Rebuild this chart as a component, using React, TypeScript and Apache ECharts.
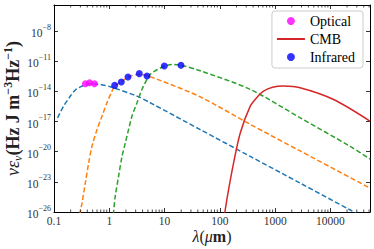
import React, { useEffect, useRef } from "react";
import * as echarts from "echarts";

const FONT = "'Liberation Serif', 'DejaVu Serif', serif";

// x tick labels (wavelength in micrometres) and y tick exponents
const xTickLabels = ["0.1", "1", "10", "100", "1000", "10000"];
const xTickValues = [0.1, 1, 10, 100, 1000, 10000];
const yTickExponents = [-26, -23, -20, -17, -14, -11, -8];
const minorMultipliers = [2, 3, 4, 5, 6, 7, 8, 9];
const minorDecades = [0.1, 1, 10, 100, 1000, 10000];

const X_MIN = 0.1;
const X_MAX = 52000;
const Y_MIN = 1e-26;
const Y_MAX_EXP = -5.4;

// Blue dashed curve
const blueLambda = [0.116, 0.149, 0.19, 0.243, 0.3, 0.37, 0.45, 0.55, 0.69, 1.04, 3.16, 5.51, 44.3, 355, 2850, 22800, 40000];
const blueValue = [2.34e-17, 3.39e-16, 2.51e-15, 1.41e-14, 2.82e-14, 4.47e-14, 5.62e-14, 5.62e-14, 4.79e-14, 2.95e-14, 3.39e-15, 7.41e-16, 1.58e-18, 3.39e-21, 7.41e-24, 1.58e-26, 3.0e-27];

// Orange dashed curve
const orangeLambda = [0.288, 0.299, 0.321, 0.368, 0.423, 0.486, 0.6, 0.738, 0.908, 1.12, 1.25, 1.65, 2.2, 3.49, 4.85, 8.36, 44.3, 355, 2820, 52500];
const orangeValue = [1e-27, 1.07e-26, 7.41e-26, 7.41e-24, 7.41e-22, 3.39e-20, 1.58e-18, 3.39e-17, 7.41e-16, 1.07e-14, 3.55e-14, 8.91e-14, 2.69e-13, 5.25e-13, 3.55e-13, 1.26e-13, 2.82e-15, 5.25e-18, 1.2e-20, 2.34e-24];

// Green dashed curve
const greenLambda = [1.148, 1.197, 1.28, 1.47, 1.7, 1.95, 2.23, 2.57, 3.17, 3.9, 4.81, 5.51, 6.79, 9.89, 13.8, 19.95, 44.3, 355, 2850, 22800, 52500];
const greenValue = [1e-27, 1.07e-26, 3.39e-25, 3.39e-23, 3.39e-21, 7.41e-20, 1.58e-18, 3.39e-17, 7.41e-16, 1.58e-14, 1.58e-13, 5.01e-13, 1.12e-12, 3.16e-12, 4.68e-12, 3.98e-12, 1.12e-12, 1.58e-14, 2.34e-17, 3.39e-20, 1.78e-21];

// CMB (red solid)
const cmbLambda = [117.5, 125, 143.5, 177, 234, 355, 468, 617, 900, 1420, 2820, 11400, 52500];
const cmbValue = [1e-27, 1.58e-26, 1.58e-24, 7.41e-22, 7.41e-19, 3.39e-16, 2.51e-15, 1.07e-14, 2.6e-14, 3.39e-14, 2.34e-14, 1.58e-15, 1.07e-17];

// Optical points (magenta)
const opticalLambda = [0.37, 0.44, 0.54];
const opticalValue = [5.89e-14, 7.41e-14, 5.89e-14];

// Infrared points (blue)
const infraredLambda = [1.25, 1.65, 2.18, 3.49, 4.81, 9.9, 19.8];
const infraredValue = [3.98e-14, 8.51e-14, 2.69e-13, 5.89e-13, 3.39e-13, 3.39e-12, 3.98e-12];

const Y_OFF = -Math.log10(Y_MIN); // 26
const lx = (v: number) => Math.log10(v);
const ly = (v: number) => Math.log10(v) + Y_OFF;
const pairs = (xs: number[], ys: number[]) => xs.map((x, i) => [lx(x), ly(ys[i])]);

export default function App() {
  const ref = useRef<HTMLDivElement>(null);
  useEffect(() => {
    if (!ref.current) return;
    const chart = echarts.init(ref.current, undefined, { renderer: "svg" });
    const xMin = lx(X_MIN);
    const xMax = lx(X_MAX);
    const yMax = Y_MAX_EXP + Y_OFF;

    const xLabelFmt = (v: number) => {
      const idx = xTickValues.findIndex((t) => Math.abs(lx(t) - v) < 1e-6);
      return idx >= 0 ? xTickLabels[idx] : "";
    };
    const yLabelFmt = (v: number) => {
      const e = Math.round(v - Y_OFF);
      if (Math.abs(v - Y_OFF - e) > 1e-6 || !yTickExponents.includes(e)) return "";
      return `{b|10}{s|\u2212${Math.abs(e)}}`;
    };

    const minorTicks: number[][] = [];
    minorDecades.forEach((d) =>
      minorMultipliers.forEach((m) => {
        const v = d * m;
        if (v < X_MAX) minorTicks.push([lx(v), 0]);
      })
    );

    const axisLine = { show: true, onZero: false, lineStyle: { color: "#000", width: 1 } };
    const majorTick = { show: true, inside: true, length: 4, lineStyle: { color: "#000", width: 0.8 } };
    const dashed = (color: string) => ({ color, width: 1.5, type: [5, 2.5] as number[] });

    chart.setOption({
      animation: false,
      backgroundColor: "#fff",
      grid: { left: 54, right: 4, top: 5, bottom: 37, containLabel: false, outerBoundsMode: "none" },
      legend: {
        orient: "vertical",
        right: 11,
        top: 11,
        data: [
          { name: "Optical" },
          { name: "CMB", itemStyle: { color: "rgba(0,0,0,0)", opacity: 0, borderWidth: 0 } },
          { name: "Infrared" },
        ],
        itemWidth: 28,
        itemHeight: 8,
        itemGap: 4,
        padding: [3, 8, 4, 4],
        backgroundColor: "rgba(255,255,255,0.85)",
        borderColor: "#ccc",
        borderWidth: 1,
        borderRadius: 3,
        textStyle: { fontFamily: FONT, fontSize: 14, color: "#000" },
      },
      xAxis: [
        {
          type: "value",
          position: "bottom",
          min: xMin,
          max: xMax,
          interval: 1,
          axisLine,
          axisTick: majorTick,
          splitLine: { show: false },
          axisLabel: {
            formatter: xLabelFmt,
            fontFamily: FONT,
            fontSize: 11.5,
            lineHeight: 12,
            color: "#333",
            margin: 3,
            showMaxLabel: false,
          },
          name: "{i|\u03bb}{r|(}{i|\u03bc}{b|m}{r|)}",
          nameLocation: "middle",
          nameGap: 15,
          nameMoveOverlap: false,
          nameTextStyle: {
            rich: {
              i: { fontFamily: FONT, fontSize: 16, lineHeight: 18, fontStyle: "italic", color: "#222" },
              r: { fontFamily: FONT, fontSize: 16, lineHeight: 18, color: "#222" },
              b: { fontFamily: FONT, fontSize: 16, lineHeight: 18, fontWeight: "bold", color: "#222" },
            },
          },
        },
        {
          type: "value",
          position: "top",
          min: xMin,
          max: xMax,
          interval: 1,
          axisLine,
          axisTick: majorTick,
          splitLine: { show: false },
          axisLabel: { show: false },
        },
      ],
      yAxis: [
        {
          type: "value",
          position: "left",
          min: 0,
          max: yMax,
          interval: 3,
          axisLine,
          axisTick: majorTick,
          splitLine: { show: false },
          axisLabel: {
            formatter: yLabelFmt,
            margin: 3,
            showMaxLabel: false,
            rich: {
              b: { fontFamily: FONT, fontSize: 11.5, color: "#333", lineHeight: 16, verticalAlign: "bottom" },
              s: { fontFamily: FONT, fontSize: 8, color: "#333", verticalAlign: "top" },
            },
          },
          name: "{i|\u03bd\u03b5}{sub|\u03bd}{b|(Hz J m}{sup|\u22123}{b|Hz}{sup|\u22121}{b|)}",
          nameLocation: "middle",
          nameRotate: 90,
          nameGap: 30,
          nameMoveOverlap: false,
          nameTextStyle: {
            rich: {
              i: { fontFamily: FONT, fontSize: 18, fontStyle: "italic", color: "#222", lineHeight: 22, verticalAlign: "middle" },
              sub: { fontFamily: FONT, fontSize: 12, fontStyle: "italic", color: "#222", verticalAlign: "bottom" },
              b: { fontFamily: FONT, fontSize: 18, fontWeight: "bold", color: "#222", lineHeight: 22, verticalAlign: "middle" },
              sup: { fontFamily: FONT, fontSize: 12, fontWeight: "bold", color: "#222", verticalAlign: "top" },
            },
          },
        },
        {
          type: "value",
          position: "right",
          min: 0,
          max: yMax,
          interval: 3,
          axisLine,
          axisTick: majorTick,
          splitLine: { show: false },
          axisLabel: { show: false },
        },
      ],
      series: [
        {
          name: "blue",
          type: "line",
          data: pairs(blueLambda, blueValue),
          symbol: "none",
          smooth: 0.3,
          lineStyle: dashed("#1f77b4"),
          z: 2,
        },
        {
          name: "orange",
          type: "line",
          data: pairs(orangeLambda, orangeValue),
          symbol: "none",
          smooth: 0.3,
          lineStyle: dashed("#ff7f0e"),
          z: 2,
        },
        {
          name: "green",
          type: "line",
          data: pairs(greenLambda, greenValue),
          symbol: "none",
          smooth: 0.3,
          lineStyle: dashed("#2ca02c"),
          z: 2,
        },
        {
          name: "CMB",
          type: "line",
          data: pairs(cmbLambda, cmbValue),
          symbol: "none",
          smooth: 0.3,
          itemStyle: { color: "#d62728" },
          lineStyle: { color: "#d62728", width: 1.5 },
          z: 2,
        },
        {
          name: "Optical",
          type: "scatter",
          data: pairs(opticalLambda, opticalValue),
          symbol: "circle",
          symbolSize: 7,
          itemStyle: { color: "#ff00ff" },
          z: 4,
        },
        {
          name: "Infrared",
          type: "scatter",
          data: pairs(infraredLambda, infraredValue),
          symbol: "circle",
          symbolSize: 7,
          itemStyle: { color: "#0000ff" },
          z: 4,
        },
        {
          name: "minorTicks",
          type: "custom",
          silent: true,
          data: minorTicks,
          encode: { x: 0, y: 1 },
          z: 5,
          renderItem: (_params: any, api: any) => {
            const x = api.value(0);
            const pb = api.coord([x, 0]);
            const pt = api.coord([x, yMax]);
            const style = { stroke: "#000", lineWidth: 0.7 };
            return {
              type: "group",
              children: [
                { type: "line", shape: { x1: pb[0], y1: pb[1], x2: pb[0], y2: pb[1] - 2.5 }, style },
                { type: "line", shape: { x1: pt[0], y1: pt[1], x2: pt[0], y2: pt[1] + 2.5 }, style },
              ],
            };
          },
        },
      ],
    });
    return () => chart.dispose();
  }, []);
  return <div ref={ref} style={{ position: "fixed", left: 0, top: 0, width: 374, height: 249 }} />;
}
